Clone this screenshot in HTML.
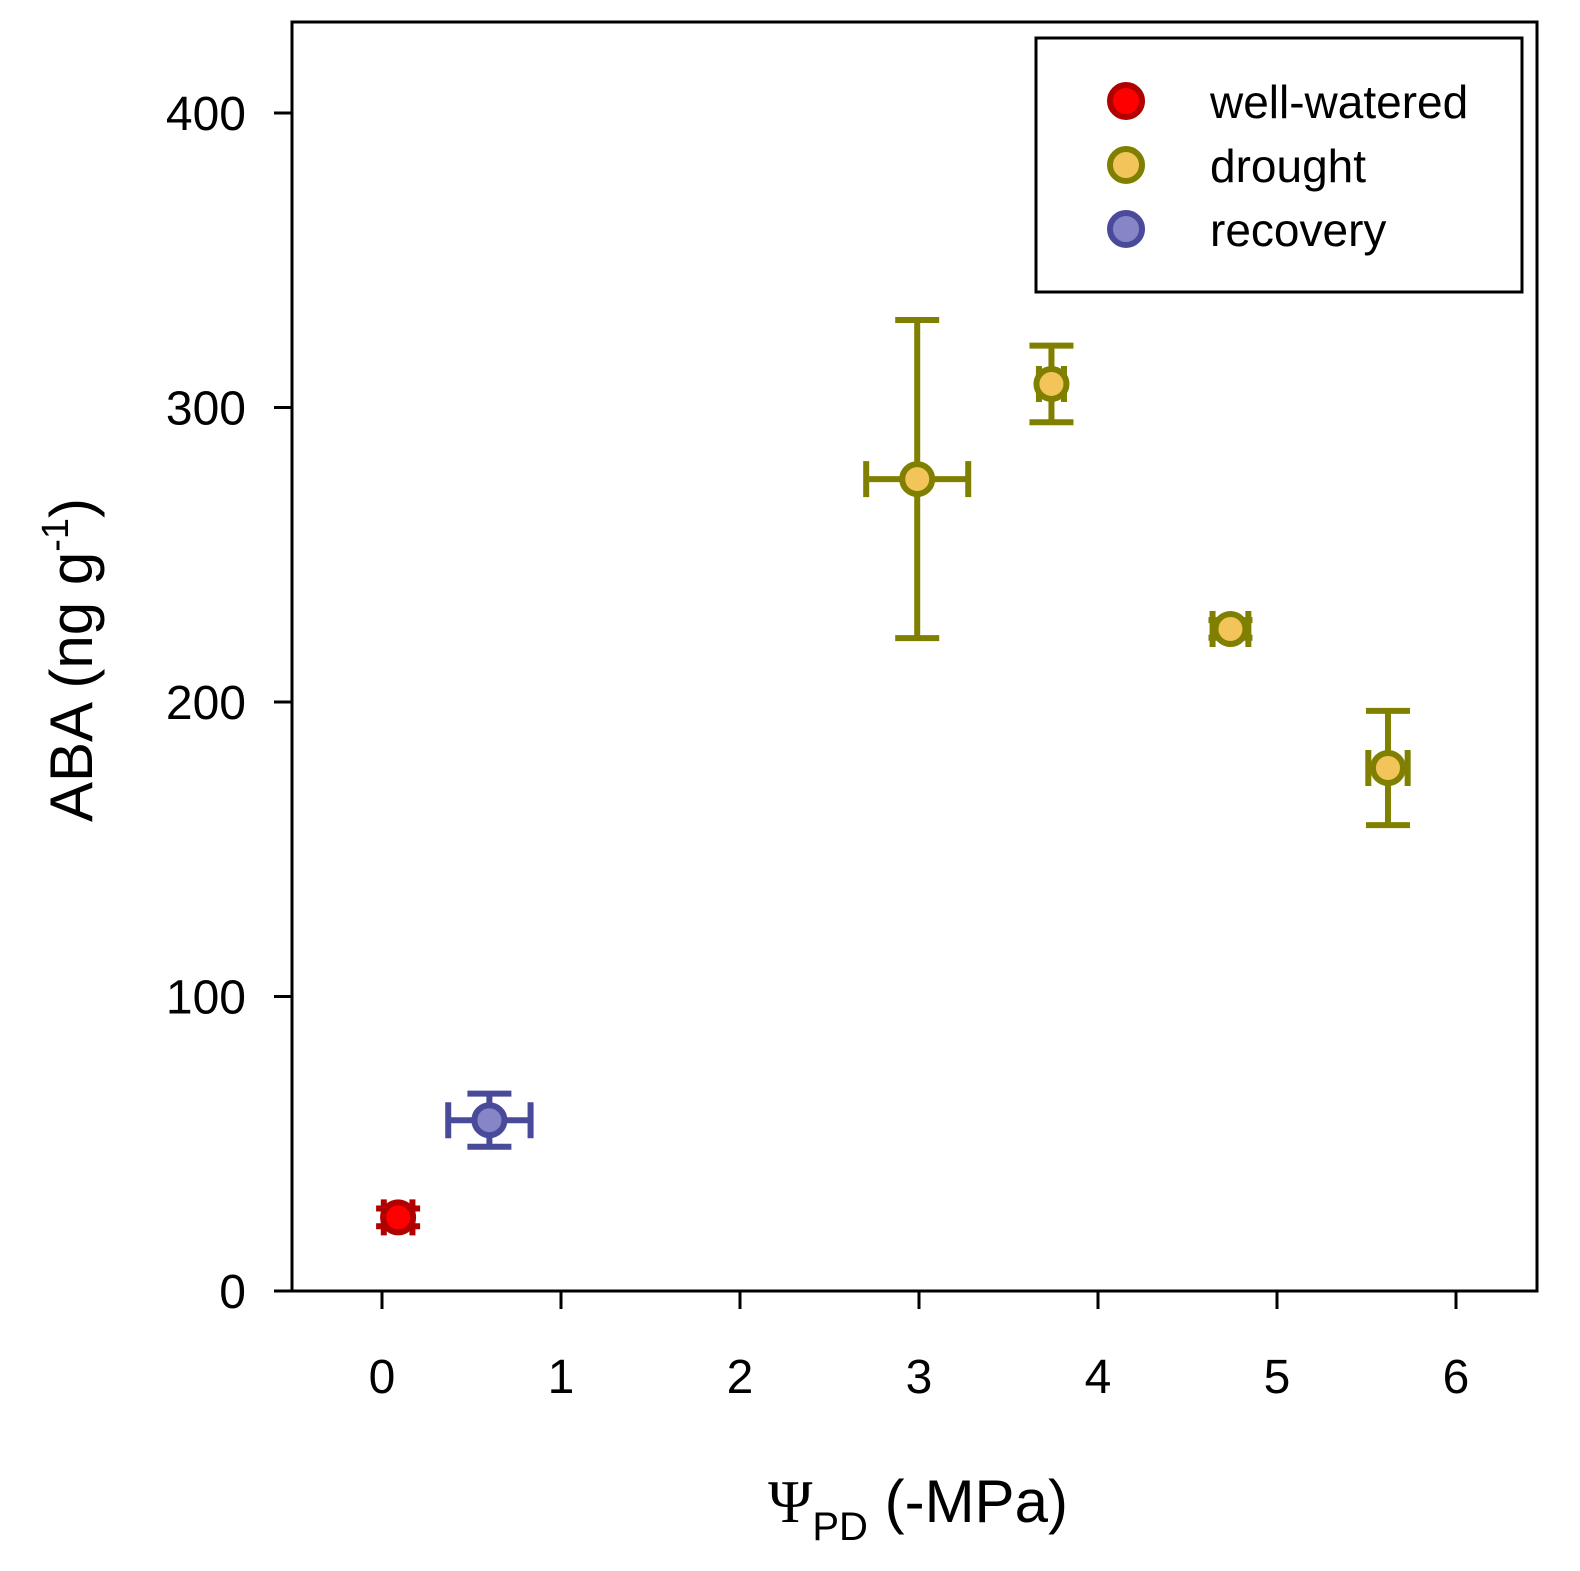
<!DOCTYPE html>
<html><head><meta charset="utf-8"><style>
body{margin:0;background:#fff}
svg{display:block;font-family:"Liberation Sans",sans-serif}
</style></head><body>
<svg id="chart" width="1580" height="1571" viewBox="0 0 1580 1571">
<rect x="292" y="22" width="1245" height="1269" fill="none" stroke="#000" stroke-width="3"/>
<g id="axes"></g>
<g id="marks"></g>
<text x="0" y="0" transform="translate(92,660) rotate(-90)" text-anchor="middle" font-size="60">ABA (ng g<tspan dy="-24" font-size="38">-1</tspan><tspan dy="24">)</tspan></text>
<text x="918" y="1522" text-anchor="middle" font-size="60"><tspan font-family="Liberation Serif,serif">Ψ</tspan><tspan dy="18" font-size="40">PD</tspan><tspan dy="-18"> (-MPa)</tspan></text>
<g>
<rect x="1036" y="38" width="486" height="254" fill="#fff" stroke="#000" stroke-width="3"/>
<g><circle cx="1126" cy="101" r="16" fill="#ff0000" stroke="#b00000" stroke-width="6"/><text x="1210" y="118" font-size="46">well-watered</text></g>
<g><circle cx="1126" cy="165" r="16" fill="#f2c45a" stroke="#808000" stroke-width="6"/><text x="1210" y="182" font-size="46">drought</text></g>
<g><circle cx="1126" cy="229" r="16" fill="#8585c8" stroke="#4a4a9a" stroke-width="6"/><text x="1210" y="246" font-size="46">recovery</text></g>
</g>
</svg>
<script>
const xTicks=[0,1,2,3,4,5,6];
const yTicks=[0,100,200,300,400];
const groups=["well-watered","recovery","drought","drought","drought","drought"];
const xVals=[0.09,0.6,2.99,3.74,4.74,5.62];
const yVals=[25,58,275.7,308,224.8,177.6];
const xErr=[0.08,0.23,0.285,0.07,0.1,0.11];
const yErr=[3,9,54,13,3,19.4];
const X=v=>382+v*179;
const Y=v=>1291-v*2.945;
const styles={"well-watered":["#ff0000","#b00000"],"recovery":["#8585c8","#4a4a9a"],"drought":["#f2c45a","#808000"]};
const NS="http://www.w3.org/2000/svg";
function mk(tag,attrs,parent){const e=document.createElementNS(NS,tag);for(const k in attrs)e.setAttribute(k,attrs[k]);parent.appendChild(e);return e;}
const ax=document.getElementById('axes');
xTicks.forEach(t=>{
 const l=mk('line',{x1:X(t),x2:X(t),y1:1291,y2:1309,stroke:'#000','stroke-width':3},ax);
 
 
 const tx=mk('text',{x:X(t),y:1393,'text-anchor':'middle','font-size':48},ax);tx.textContent=t;
 
 
});
yTicks.forEach(t=>{
 const l=mk('line',{x1:274,x2:292,y1:Y(t),y2:Y(t),stroke:'#000','stroke-width':3},ax);
 
 
 const tx=mk('text',{x:246,y:Y(t)+17,'text-anchor':'end','font-size':48},ax);tx.textContent=t;
 
 
});
const mg=document.getElementById('marks');
xVals.forEach((xv,i)=>{
 const [fill,st]=styles[groups[i]];
 const g=mk('g',{},mg);
 
 
 const cx=X(xv),cy=Y(yVals[i]);
 const x1=X(xv-xErr[i]),x2=X(xv+xErr[i]),y1=Y(yVals[i]+yErr[i]),y2=Y(yVals[i]-yErr[i]);
 const sw=6;
 mk('line',{x1:x1,x2:x2,y1:cy,y2:cy,stroke:st,'stroke-width':sw},g);
 mk('line',{x1:x1,x2:x1,y1:cy-18,y2:cy+18,stroke:st,'stroke-width':sw},g);
 mk('line',{x1:x2,x2:x2,y1:cy-18,y2:cy+18,stroke:st,'stroke-width':sw},g);
 mk('line',{x1:cx,x2:cx,y1:y1,y2:y2,stroke:st,'stroke-width':sw},g);
 mk('line',{x1:cx-22,x2:cx+22,y1:y1,y2:y1,stroke:st,'stroke-width':sw},g);
 mk('line',{x1:cx-22,x2:cx+22,y1:y2,y2:y2,stroke:st,'stroke-width':sw},g);
 mk('circle',{cx:cx,cy:cy,r:15,fill:fill,stroke:st,'stroke-width':6},g);
});
</script>
</body></html>
